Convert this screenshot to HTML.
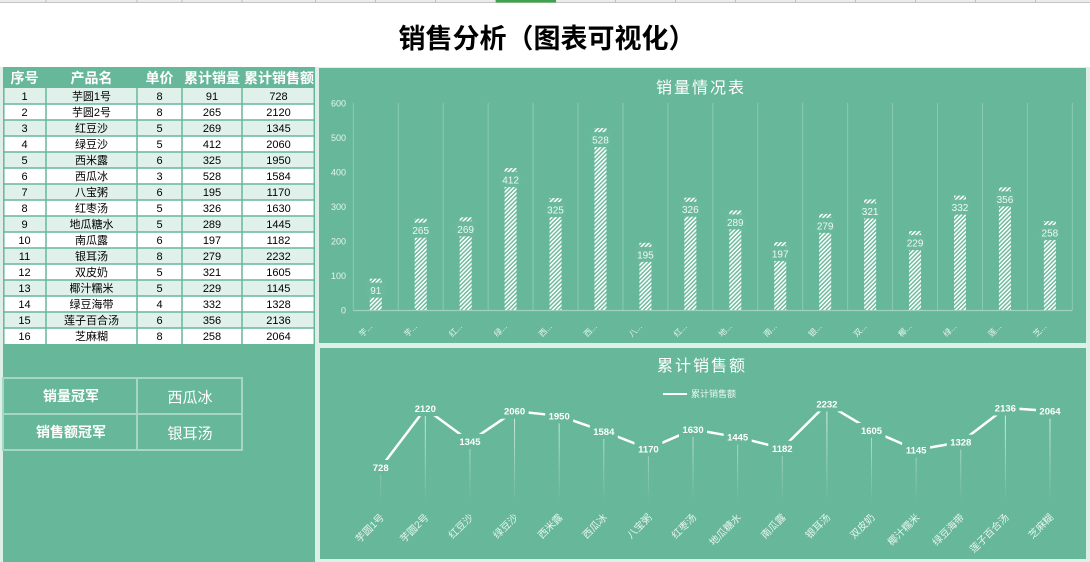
<!DOCTYPE html>
<html><head><meta charset="utf-8"><style>
html,body{margin:0;padding:0;background:#fff;}
svg{display:block;}
text{font-family:"Liberation Sans","Noto Sans CJK SC",sans-serif;}
</style></head><body>
<svg width="1090" height="562" viewBox="0 0 1090 562" xmlns="http://www.w3.org/2000/svg">
<defs>
<pattern id="h" width="3" height="3" patternUnits="userSpaceOnUse" patternTransform="rotate(45)">
<rect width="3" height="3" fill="#67b79b"/><rect width="1.6" height="3" fill="#ffffff"/>
</pattern>
<linearGradient id="dg" gradientUnits="userSpaceOnUse" x1="0" y1="400" x2="0" y2="502">
<stop offset="0" stop-color="#ffffff" stop-opacity="0.85"/>
<stop offset="1" stop-color="#ffffff" stop-opacity="0"/>
</linearGradient>
</defs>
<!-- top sheet strip -->
<rect x="0" y="0" width="1090" height="2.5" fill="#ececec"/>
<line x1="0" y1="2.5" x2="1090" y2="2.5" stroke="#c4c4c4" stroke-width="1"/>
<g stroke="#bdbdbd" stroke-width="1">
<line x1="46" y1="0" x2="46" y2="3"/><line x1="137" y1="0" x2="137" y2="3"/><line x1="182" y1="0" x2="182" y2="3"/><line x1="242" y1="0" x2="242" y2="3"/><line x1="315.6" y1="0" x2="315.6" y2="3"/><line x1="375.6" y1="0" x2="375.6" y2="3"/><line x1="435.6" y1="0" x2="435.6" y2="3"/><line x1="495.6" y1="0" x2="495.6" y2="3"/><line x1="555.6" y1="0" x2="555.6" y2="3"/><line x1="615.6" y1="0" x2="615.6" y2="3"/><line x1="675.6" y1="0" x2="675.6" y2="3"/><line x1="735.6" y1="0" x2="735.6" y2="3"/><line x1="795.6" y1="0" x2="795.6" y2="3"/><line x1="855.6" y1="0" x2="855.6" y2="3"/><line x1="915.6" y1="0" x2="915.6" y2="3"/><line x1="975.6" y1="0" x2="975.6" y2="3"/><line x1="1035.6" y1="0" x2="1035.6" y2="3"/>
</g>
<rect x="496" y="0" width="60" height="2.5" fill="#3fa34d"/>

<!-- title -->
<text x="547" y="48" font-size="27" font-weight="bold" text-anchor="middle" fill="#000">销售分析（图表可视化）</text>

<!-- background panels -->
<rect x="0" y="67" width="1090" height="495" fill="#deeee8"/>
<rect x="3" y="67" width="312" height="495" fill="#67b79b"/>
<rect x="319" y="68" width="767" height="275" fill="#67b79b"/>
<rect x="320" y="348" width="766" height="211" fill="#67b79b"/>

<!-- table -->
<rect x="3" y="67" width="312" height="21" fill="#67b79b"/>
<g fill="#e0f0ea">
<rect x="3" y="88" width="312" height="16"/><rect x="3" y="120" width="312" height="16"/><rect x="3" y="152" width="312" height="16"/><rect x="3" y="184" width="312" height="16"/><rect x="3" y="216" width="312" height="16"/><rect x="3" y="248" width="312" height="16"/><rect x="3" y="280" width="312" height="16"/><rect x="3" y="312" width="312" height="16"/>
</g>
<g fill="#ffffff">
<rect x="3" y="104" width="312" height="16"/><rect x="3" y="136" width="312" height="16"/><rect x="3" y="168" width="312" height="16"/><rect x="3" y="200" width="312" height="16"/><rect x="3" y="232" width="312" height="16"/><rect x="3" y="264" width="312" height="16"/><rect x="3" y="296" width="312" height="16"/><rect x="3" y="328" width="312" height="16"/>
</g>
<g stroke="#67b79b" stroke-width="1.5">
<line x1="3" y1="104" x2="315" y2="104"/><line x1="3" y1="120" x2="315" y2="120"/><line x1="3" y1="136" x2="315" y2="136"/><line x1="3" y1="152" x2="315" y2="152"/><line x1="3" y1="168" x2="315" y2="168"/><line x1="3" y1="184" x2="315" y2="184"/><line x1="3" y1="200" x2="315" y2="200"/><line x1="3" y1="216" x2="315" y2="216"/><line x1="3" y1="232" x2="315" y2="232"/><line x1="3" y1="248" x2="315" y2="248"/><line x1="3" y1="264" x2="315" y2="264"/><line x1="3" y1="280" x2="315" y2="280"/><line x1="3" y1="296" x2="315" y2="296"/><line x1="3" y1="312" x2="315" y2="312"/><line x1="3" y1="328" x2="315" y2="328"/>
<line x1="46" y1="88" x2="46" y2="344"/><line x1="137" y1="88" x2="137" y2="344"/><line x1="182" y1="88" x2="182" y2="344"/><line x1="242" y1="88" x2="242" y2="344"/>
<line x1="3.8" y1="67" x2="3.8" y2="344"/><line x1="314.3" y1="67" x2="314.3" y2="344"/>
</g>
<g font-size="14" font-weight="bold" fill="#fff" text-anchor="middle">
<text x="24.5" y="83">序号</text><text x="91.5" y="83">产品名</text><text x="159.5" y="83">单价</text><text x="212" y="83">累计销量</text><text x="279" y="83">累计销售额</text>
</g>
<g font-size="11" fill="#000" text-anchor="middle">
<text x="24.5" y="100">1</text><text x="91.5" y="100">芋圆1号</text><text x="159.5" y="100">8</text><text x="212" y="100">91</text><text x="278.5" y="100">728</text>
<text x="24.5" y="116">2</text><text x="91.5" y="116">芋圆2号</text><text x="159.5" y="116">8</text><text x="212" y="116">265</text><text x="278.5" y="116">2120</text>
<text x="24.5" y="132">3</text><text x="91.5" y="132">红豆沙</text><text x="159.5" y="132">5</text><text x="212" y="132">269</text><text x="278.5" y="132">1345</text>
<text x="24.5" y="148">4</text><text x="91.5" y="148">绿豆沙</text><text x="159.5" y="148">5</text><text x="212" y="148">412</text><text x="278.5" y="148">2060</text>
<text x="24.5" y="164">5</text><text x="91.5" y="164">西米露</text><text x="159.5" y="164">6</text><text x="212" y="164">325</text><text x="278.5" y="164">1950</text>
<text x="24.5" y="180">6</text><text x="91.5" y="180">西瓜冰</text><text x="159.5" y="180">3</text><text x="212" y="180">528</text><text x="278.5" y="180">1584</text>
<text x="24.5" y="196">7</text><text x="91.5" y="196">八宝粥</text><text x="159.5" y="196">6</text><text x="212" y="196">195</text><text x="278.5" y="196">1170</text>
<text x="24.5" y="212">8</text><text x="91.5" y="212">红枣汤</text><text x="159.5" y="212">5</text><text x="212" y="212">326</text><text x="278.5" y="212">1630</text>
<text x="24.5" y="228">9</text><text x="91.5" y="228">地瓜糖水</text><text x="159.5" y="228">5</text><text x="212" y="228">289</text><text x="278.5" y="228">1445</text>
<text x="24.5" y="244">10</text><text x="91.5" y="244">南瓜露</text><text x="159.5" y="244">6</text><text x="212" y="244">197</text><text x="278.5" y="244">1182</text>
<text x="24.5" y="260">11</text><text x="91.5" y="260">银耳汤</text><text x="159.5" y="260">8</text><text x="212" y="260">279</text><text x="278.5" y="260">2232</text>
<text x="24.5" y="276">12</text><text x="91.5" y="276">双皮奶</text><text x="159.5" y="276">5</text><text x="212" y="276">321</text><text x="278.5" y="276">1605</text>
<text x="24.5" y="292">13</text><text x="91.5" y="292">椰汁糯米</text><text x="159.5" y="292">5</text><text x="212" y="292">229</text><text x="278.5" y="292">1145</text>
<text x="24.5" y="308">14</text><text x="91.5" y="308">绿豆海带</text><text x="159.5" y="308">4</text><text x="212" y="308">332</text><text x="278.5" y="308">1328</text>
<text x="24.5" y="324">15</text><text x="91.5" y="324">莲子百合汤</text><text x="159.5" y="324">6</text><text x="212" y="324">356</text><text x="278.5" y="324">2136</text>
<text x="24.5" y="340">16</text><text x="91.5" y="340">芝麻糊</text><text x="159.5" y="340">8</text><text x="212" y="340">258</text><text x="278.5" y="340">2064</text>
</g>

<!-- champion box -->
<g stroke="#a6d7c4" stroke-width="2" fill="none">
<rect x="3" y="378" width="239" height="72"/>
<line x1="3" y1="414" x2="242" y2="414"/>
<line x1="137" y1="378" x2="137" y2="450"/>
</g>
<g fill="#fff" text-anchor="middle">
<text x="71" y="401" font-size="14" font-weight="bold">销量冠军</text>
<text x="190" y="402.5" font-size="15">西瓜冰</text>
<text x="71" y="437" font-size="14" font-weight="bold">销售额冠军</text>
<text x="190" y="438.5" font-size="15">银耳汤</text>
</g>

<!-- chart 1 -->
<text x="701" y="93" font-size="16" letter-spacing="2" fill="#fff" text-anchor="middle">销量情况表</text>
<g stroke="#8ccab3" stroke-width="1">
<line x1="353.3" y1="103" x2="353.3" y2="310"/><line x1="398.24" y1="103" x2="398.24" y2="310"/><line x1="443.18" y1="103" x2="443.18" y2="310"/><line x1="488.12" y1="103" x2="488.12" y2="310"/><line x1="533.06" y1="103" x2="533.06" y2="310"/><line x1="578" y1="103" x2="578" y2="310"/><line x1="622.94" y1="103" x2="622.94" y2="310"/><line x1="667.88" y1="103" x2="667.88" y2="310"/><line x1="712.82" y1="103" x2="712.82" y2="310"/><line x1="757.76" y1="103" x2="757.76" y2="310"/><line x1="802.7" y1="103" x2="802.7" y2="310"/><line x1="847.64" y1="103" x2="847.64" y2="310"/><line x1="892.58" y1="103" x2="892.58" y2="310"/><line x1="937.52" y1="103" x2="937.52" y2="310"/><line x1="982.46" y1="103" x2="982.46" y2="310"/><line x1="1027.4" y1="103" x2="1027.4" y2="310"/><line x1="1072.34" y1="103" x2="1072.34" y2="310"/>
</g>
<line x1="353.3" y1="310.5" x2="1072.3" y2="310.5" stroke="#9fd3c0" stroke-width="1.2"/>
<g font-size="9" fill="#e8f5ef" text-anchor="end">
<text x="346" y="106.5">600</text><text x="346" y="141">500</text><text x="346" y="175.5">400</text><text x="346" y="210">300</text><text x="346" y="244.5">200</text><text x="346" y="279">100</text><text x="346" y="313.5">0</text>
</g>
<g fill="url(#h)">
<rect x="369.77" y="278.65" width="12" height="31.35"/>
<rect x="414.71" y="218.71" width="12" height="91.29"/>
<rect x="459.65" y="217.33" width="12" height="92.67"/>
<rect x="504.59" y="168.07" width="12" height="141.93"/>
<rect x="549.53" y="198.04" width="12" height="111.96"/>
<rect x="594.47" y="128.1" width="12" height="181.9"/>
<rect x="639.41" y="242.82" width="12" height="67.18"/>
<rect x="684.35" y="197.69" width="12" height="112.31"/>
<rect x="729.29" y="210.44" width="12" height="99.56"/>
<rect x="774.23" y="242.13" width="12" height="67.87"/>
<rect x="819.17" y="213.88" width="12" height="96.12"/>
<rect x="864.11" y="199.42" width="12" height="110.58"/>
<rect x="909.05" y="231.11" width="12" height="78.89"/>
<rect x="953.99" y="195.63" width="12" height="114.37"/>
<rect x="998.93" y="187.36" width="12" height="122.64"/>
<rect x="1043.87" y="221.12" width="12" height="88.88"/>
</g>
<g fill="#6ab99d">
<rect x="365.77" y="282.65" width="20" height="15"/>
<rect x="410.71" y="222.71" width="20" height="15"/>
<rect x="455.65" y="221.33" width="20" height="15"/>
<rect x="500.59" y="172.07" width="20" height="15"/>
<rect x="545.53" y="202.04" width="20" height="15"/>
<rect x="590.47" y="132.1" width="20" height="15"/>
<rect x="635.41" y="246.82" width="20" height="15"/>
<rect x="680.35" y="201.69" width="20" height="15"/>
<rect x="725.29" y="214.44" width="20" height="15"/>
<rect x="770.23" y="246.13" width="20" height="15"/>
<rect x="815.17" y="217.88" width="20" height="15"/>
<rect x="860.11" y="203.42" width="20" height="15"/>
<rect x="905.05" y="235.11" width="20" height="15"/>
<rect x="949.99" y="199.63" width="20" height="15"/>
<rect x="994.93" y="191.36" width="20" height="15"/>
<rect x="1039.87" y="225.12" width="20" height="15"/>
</g>
<g font-size="10" fill="#eef8f3" text-anchor="middle">
<text x="375.77" y="294.15">91</text><text x="420.71" y="234.21">265</text><text x="465.65" y="232.83">269</text><text x="510.59" y="183.57">412</text><text x="555.53" y="213.54">325</text><text x="600.47" y="143.6">528</text><text x="645.41" y="258.32">195</text><text x="690.35" y="213.19">326</text><text x="735.29" y="225.94">289</text><text x="780.23" y="257.63">197</text><text x="825.17" y="229.38">279</text><text x="870.11" y="214.92">321</text><text x="915.05" y="246.61">229</text><text x="959.99" y="211.13">332</text><text x="1004.93" y="202.86">356</text><text x="1049.87" y="236.62">258</text>
</g>
<g font-size="8" fill="#e6f4ee" text-anchor="end">
<text transform="translate(372.8,327) rotate(-45)">芋...</text>
<text transform="translate(417.7,327) rotate(-45)">芋...</text>
<text transform="translate(462.6,327) rotate(-45)">红...</text>
<text transform="translate(507.6,327) rotate(-45)">绿...</text>
<text transform="translate(552.5,327) rotate(-45)">西...</text>
<text transform="translate(597.5,327) rotate(-45)">西...</text>
<text transform="translate(642.4,327) rotate(-45)">八...</text>
<text transform="translate(687.4,327) rotate(-45)">红...</text>
<text transform="translate(732.3,327) rotate(-45)">地...</text>
<text transform="translate(777.2,327) rotate(-45)">南...</text>
<text transform="translate(822.2,327) rotate(-45)">银...</text>
<text transform="translate(867.1,327) rotate(-45)">双...</text>
<text transform="translate(912.1,327) rotate(-45)">椰...</text>
<text transform="translate(957,327) rotate(-45)">绿...</text>
<text transform="translate(1001.9,327) rotate(-45)">莲...</text>
<text transform="translate(1046.9,327) rotate(-45)">芝...</text>
</g>

<!-- chart 2 -->
<text x="702" y="371" font-size="16" letter-spacing="2" fill="#fff" text-anchor="middle">累计销售额</text>
<line x1="663" y1="394" x2="687" y2="394" stroke="#fff" stroke-width="2"/>
<text x="691" y="397" font-size="9" fill="#eef7f3">累计销售额</text>
<g stroke="url(#dg)" stroke-width="1">
<line x1="380.7" y1="467.5" x2="380.7" y2="502"/>
<line x1="425.32" y1="408.6" x2="425.32" y2="502"/>
<line x1="469.94" y1="441.4" x2="469.94" y2="502"/>
<line x1="514.56" y1="411.2" x2="514.56" y2="502"/>
<line x1="559.18" y1="415.8" x2="559.18" y2="502"/>
<line x1="603.8" y1="431.3" x2="603.8" y2="502"/>
<line x1="648.42" y1="448.8" x2="648.42" y2="502"/>
<line x1="693.04" y1="429.4" x2="693.04" y2="502"/>
<line x1="737.66" y1="437.2" x2="737.66" y2="502"/>
<line x1="782.28" y1="448.3" x2="782.28" y2="502"/>
<line x1="826.9" y1="403.9" x2="826.9" y2="502"/>
<line x1="871.52" y1="430.4" x2="871.52" y2="502"/>
<line x1="916.14" y1="449.9" x2="916.14" y2="502"/>
<line x1="960.76" y1="442.1" x2="960.76" y2="502"/>
<line x1="1005.38" y1="408" x2="1005.38" y2="502"/>
<line x1="1050" y1="411" x2="1050" y2="502"/>
</g>
<polyline fill="none" stroke="#fff" stroke-width="2.5" stroke-linejoin="round" points="380.7,467.51 425.32,408.62 469.94,441.41 514.56,411.16 559.18,415.81 603.8,431.3 648.42,448.81 693.04,429.35 737.66,437.18 782.28,448.3 826.9,403.89 871.52,430.41 916.14,449.87 960.76,442.13 1005.38,407.95 1050,410.99"/>
<g fill="#67b79b">
<rect x="366.7" y="460" width="28" height="15"/>
<rect x="411.3" y="401.1" width="28" height="15"/>
<rect x="455.9" y="433.9" width="28" height="15"/>
<rect x="500.6" y="403.7" width="28" height="15"/>
<rect x="545.2" y="408.3" width="28" height="15"/>
<rect x="589.8" y="423.8" width="28" height="15"/>
<rect x="634.4" y="441.3" width="28" height="15"/>
<rect x="679" y="421.9" width="28" height="15"/>
<rect x="723.7" y="429.7" width="28" height="15"/>
<rect x="768.3" y="440.8" width="28" height="15"/>
<rect x="812.9" y="396.4" width="28" height="15"/>
<rect x="857.5" y="422.9" width="28" height="15"/>
<rect x="902.1" y="442.4" width="28" height="15"/>
<rect x="946.8" y="434.6" width="28" height="15"/>
<rect x="991.4" y="400.5" width="28" height="15"/>
<rect x="1036" y="403.5" width="28" height="15"/>
</g>
<g font-size="9.5" font-weight="bold" fill="#fff" text-anchor="middle">
<text x="380.7" y="471">728</text><text x="425.32" y="412.1">2120</text><text x="469.94" y="444.9">1345</text><text x="514.56" y="414.7">2060</text><text x="559.18" y="419.3">1950</text><text x="603.8" y="434.8">1584</text><text x="648.42" y="452.3">1170</text><text x="693.04" y="432.9">1630</text><text x="737.66" y="440.7">1445</text><text x="782.28" y="451.8">1182</text><text x="826.9" y="407.4">2232</text><text x="871.52" y="433.9">1605</text><text x="916.14" y="453.4">1145</text><text x="960.76" y="445.6">1328</text><text x="1005.38" y="411.5">2136</text><text x="1050" y="414.5">2064</text>
</g>
<g font-size="10" fill="#e8f5ef" text-anchor="end">
<text transform="translate(384.7,518) rotate(-45)">芋圆1号</text>
<text transform="translate(429.3,518) rotate(-45)">芋圆2号</text>
<text transform="translate(473.9,518) rotate(-45)">红豆沙</text>
<text transform="translate(518.6,518) rotate(-45)">绿豆沙</text>
<text transform="translate(563.2,518) rotate(-45)">西米露</text>
<text transform="translate(607.8,518) rotate(-45)">西瓜冰</text>
<text transform="translate(652.4,518) rotate(-45)">八宝粥</text>
<text transform="translate(697,518) rotate(-45)">红枣汤</text>
<text transform="translate(741.7,518) rotate(-45)">地瓜糖水</text>
<text transform="translate(786.3,518) rotate(-45)">南瓜露</text>
<text transform="translate(830.9,518) rotate(-45)">银耳汤</text>
<text transform="translate(875.5,518) rotate(-45)">双皮奶</text>
<text transform="translate(920.1,518) rotate(-45)">椰汁糯米</text>
<text transform="translate(964.8,518) rotate(-45)">绿豆海带</text>
<text transform="translate(1009.4,518) rotate(-45)">莲子百合汤</text>
<text transform="translate(1054,518) rotate(-45)">芝麻糊</text>
</g>
</svg>
</body></html>
